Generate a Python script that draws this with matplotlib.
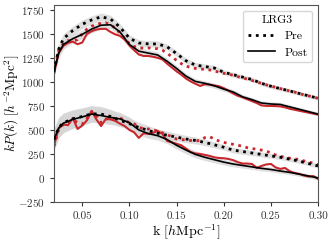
import numpy as np
import matplotlib
matplotlib.use("Agg")
import matplotlib.pyplot as plt
from matplotlib.lines import Line2D

plt.rcParams["font.family"] = "serif"
plt.rcParams["font.serif"] = ["cmr10"]
plt.rcParams["mathtext.fontset"] = "cm"
plt.rcParams["axes.formatter.use_mathtext"] = True

# k grid for the mean curves
k_mean = [0.02, 0.025, 0.03, 0.04, 0.05, 0.06, 0.07, 0.08, 0.09, 0.10,
          0.11, 0.12, 0.13, 0.14, 0.15, 0.16, 0.17, 0.18, 0.19, 0.20,
          0.21, 0.22, 0.23, 0.24, 0.25, 0.26, 0.27, 0.28, 0.29, 0.30]

# monopole-like (upper) mean curves
pre_hi_mean = [1110, 1340, 1450, 1535, 1600, 1645, 1678, 1655, 1570, 1455,
               1405, 1396, 1395, 1365, 1295, 1220, 1175, 1160, 1145, 1100,
               1075, 1050, 1025, 985, 955, 930, 906, 880, 855, 830]
post_hi_mean = [1110, 1300, 1390, 1450, 1495, 1550, 1590, 1595, 1520, 1390,
                1320, 1300, 1280, 1215, 1140, 1060, 1005, 985, 960, 925,
                895, 845, 815, 780, 770, 765, 740, 715, 690, 665]
band_hi = [60, 55, 50, 45, 45, 42, 40, 40, 38, 35,
           35, 33, 32, 30, 30, 28, 28, 27, 26, 25,
           25, 24, 23, 23, 22, 22, 21, 21, 20, 20]

# quadrupole-like (lower) mean curves
pre_lo_mean = [400, 525, 575, 615, 640, 668, 665, 640, 600, 565,
               525, 495, 465, 445, 425, 405, 390, 370, 345, 320,
               290, 275, 260, 245, 230, 215, 195, 175, 150, 125]
post_lo_mean = [400, 520, 570, 610, 635, 665, 650, 630, 615, 575,
                500, 462, 440, 400, 340, 290, 245, 215, 190, 165,
                145, 130, 115, 100, 88, 72, 58, 40, 20, 0]
band_lo = [110, 105, 100, 95, 90, 85, 80, 75, 68, 60,
           55, 50, 46, 43, 40, 38, 36, 34, 32, 30,
           29, 28, 27, 26, 25, 24, 23, 23, 22, 22]

# k grid for the single data realisation (red)
k_data = [0.020, 0.025, 0.030, 0.035, 0.040, 0.045, 0.050, 0.055, 0.060, 0.065,
          0.070, 0.075, 0.080, 0.085, 0.090, 0.095, 0.100, 0.105, 0.110, 0.115,
          0.120, 0.125, 0.130, 0.135, 0.140, 0.145, 0.150, 0.155, 0.160, 0.165,
          0.170, 0.175, 0.180, 0.185, 0.190, 0.195, 0.200, 0.205, 0.210, 0.215,
          0.220, 0.225, 0.230, 0.235, 0.240, 0.245, 0.250, 0.255, 0.260, 0.265,
          0.270, 0.275, 0.280, 0.285, 0.290, 0.295, 0.300]

pre_hi_data = [1090, 1330, 1400, 1430, 1425, 1440, 1500, 1550, 1580, 1600,
               1610, 1615, 1595, 1560, 1510, 1450, 1400, 1370, 1354, 1352,
               1354, 1350, 1345, 1330, 1300, 1260, 1225, 1190, 1165, 1150,
               1140, 1135, 1130, 1125, 1115, 1100, 1090, 1080, 1070, 1055,
               1040, 1030, 1015, 1000, 985, 970, 955, 945, 930, 918,
               905, 895, 880, 865, 855, 842, 830]
post_hi_data = [1090, 1300, 1375, 1406, 1420, 1392, 1410, 1500, 1528, 1545,
                1552, 1552, 1520, 1495, 1479, 1440, 1380, 1330, 1285, 1270,
                1270, 1262, 1250, 1235, 1190, 1150, 1110, 1075, 1035, 1005,
                980, 958, 975, 972, 962, 955, 935, 910, 880, 855,
                840, 820, 800, 780, 755, 750, 750, 748, 745, 735,
                720, 710, 700, 690, 680, 670, 660]

pre_lo_data = [330, 500, 560, 570, 600, 580, 560, 620, 690, 650,
               575, 610, 625, 620, 625, 600, 575, 563, 530, 510,
               510, 500, 490, 470, 450, 430, 405, 400, 395, 390,
               385, 390, 420, 430, 405, 385, 370, 360, 350, 340,
               330, 315, 305, 300, 290, 280, 260, 240, 225, 215,
               205, 200, 190, 178, 165, 155, 140]
post_lo_data = [333, 515, 555, 550, 625, 510, 545, 600, 698, 610,
                540, 615, 610, 594, 565, 540, 500, 475, 417, 465,
                460, 470, 490, 458, 385, 370, 355, 340, 305, 270,
                255, 250, 240, 230, 215, 208, 205, 198, 185, 165,
                150, 150, 145, 104, 125, 140, 146, 110, 94, 104,
                70, 52, 42, 25, 15, 20, -10]

red = "#c8282d"

fig = plt.figure(figsize=(3.33, 2.41), dpi=100)
ax = fig.add_axes([0.162, 0.162, 0.793, 0.817])

km = np.array(k_mean)
for mean_curve, band in [(pre_hi_mean, band_hi), (post_hi_mean, band_hi),
                         (pre_lo_mean, band_lo), (post_lo_mean, band_lo)]:
    m = np.array(mean_curve)
    b = np.array(band)
    ax.fill_between(km, m - b, m + b, color="#d4d4d4", alpha=0.75,
                    lw=0, zorder=1)

ax.plot(k_data, pre_hi_data, color=red, ls=":", lw=2, zorder=2)
ax.plot(k_data, post_hi_data, color=red, ls="-", lw=1.5, zorder=2)
ax.plot(k_data, pre_lo_data, color=red, ls=":", lw=2, zorder=2)
ax.plot(k_data, post_lo_data, color=red, ls="-", lw=1.5, zorder=2)

ax.plot(k_mean, pre_hi_mean, color="black", ls=":", lw=2, zorder=3)
ax.plot(k_mean, post_hi_mean, color="black", ls="-", lw=1.2, zorder=3)
ax.plot(k_mean, pre_lo_mean, color="black", ls=":", lw=2, zorder=3)
ax.plot(k_mean, post_lo_mean, color="black", ls="-", lw=1.2, zorder=3)

ax.set_xlim(0.02, 0.30)
ax.set_ylim(-250, 1800)
ax.set_xticks([0.05, 0.10, 0.15, 0.20, 0.25, 0.30])
ax.set_xticklabels(["0.05", "0.10", "0.15", "0.20", "0.25", "0.30"])
ax.set_yticks([-250, 0, 250, 500, 750, 1000, 1250, 1500, 1750])
ax.tick_params(labelsize=8, colors="#333333", length=3)
for s in ax.spines.values():
    s.set_color("#555555")

ax.set_xlabel(r"k $[h\mathrm{Mpc}^{-1}]$", fontsize=10, labelpad=2)
ax.set_ylabel(r"$kP(k)\ [h^{-2}\mathrm{Mpc}^2]$", fontsize=9.5)
ax.yaxis.set_label_coords(-0.125, 0.5)

handles = [Line2D([], [], color="black", ls=":", lw=2),
           Line2D([], [], color="black", ls="-", lw=1.2)]
ax.legend(handles, ["Pre", "Post"], title="LRG3", loc="upper right",
          fontsize=8.5, title_fontsize=8.5, handlelength=2.3)

fig.savefig("out.png", dpi=100)
